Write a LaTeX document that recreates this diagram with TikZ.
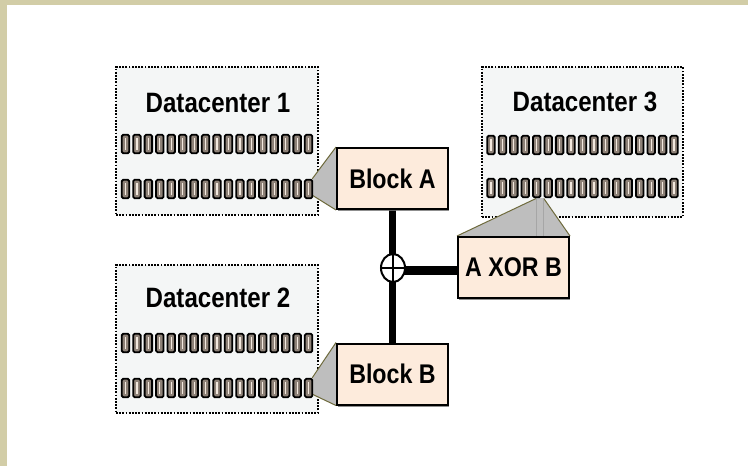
\documentclass[tikz,border=0pt]{standalone}
\usepackage{fontspec}
\newfontfamily\labelfont[FakeStretch=0.86]{Liberation Sans}
\usetikzlibrary{shapes.geometric,shadows}

\definecolor{frame}{HTML}{D2CDA7}
\definecolor{dcfill}{HTML}{F4F6F6}
\definecolor{blockfill}{HTML}{FDEBDC}
\definecolor{diskfill}{HTML}{8E8278}
\definecolor{diskstripe}{HTML}{F2E8DE}
\definecolor{calloutfill}{HTML}{BEBEBE}
\definecolor{calloutline}{HTML}{6E6A3C}

\pgfdeclarelayer{bg}
\pgfdeclarelayer{mid}
\pgfsetlayers{bg,mid,main}

\tikzset{
  dcbox/.style={draw=black, line width=2pt, dash pattern=on 1.8pt off 1.4pt,
    fill=dcfill, minimum width=202pt, minimum height=148pt, inner sep=0pt},
  dctitle/.style={font=\labelfont\bfseries\fontsize{28}{30}\selectfont, inner sep=0pt},
  disk/.style={draw=black, line width=1.8pt, fill=diskfill, rounded corners=1.5pt,
    minimum width=7.5pt, minimum height=18.5pt, inner sep=0pt,
    path picture={\draw[diskstripe, line width=1.2pt]
      ([yshift=-3pt]path picture bounding box.north) --
      ([yshift=3pt]path picture bounding box.south);}},
  blockbox/.style={draw=black, line width=2pt, fill=blockfill,
    minimum width=111pt, minimum height=61pt, inner sep=0pt,
    font=\labelfont\bfseries\fontsize{27}{29}\selectfont,
    drop shadow={shadow xshift=1.2pt, shadow yshift=-2pt, fill=black!55, opacity=0.8}},
  callout/.style={fill=calloutfill},
  calloutedge/.style={draw=calloutline, line width=1pt},
  xorsign/.style={ellipse, draw=black, line width=2pt, fill=white,
    minimum width=24pt, minimum height=28pt, inner sep=0pt,
    path picture={\draw[black, line width=1.6pt]
      (path picture bounding box.north) -- (path picture bounding box.south)
      (path picture bounding box.west) -- (path picture bounding box.east);}},
  bar/.style={draw=black, line width=#1},
}

\begin{document}
\begin{tikzpicture}[x=1pt, y=-1pt]
  \useasboundingbox (0,0) rectangle (748,466);

  \begin{pgfonlayer}{bg}
    % page and frame
    \fill[white] (0,0) rectangle (748,466);
    \fill[frame] (0,0) rectangle (748,5);
    \fill[frame] (0,0) rectangle (7,466);
    % datacenter enclosures
    \node[dcbox] (dc1) at (217,141) {};
    \node[dcbox] (dc2) at (217,339) {};
    \node[dcbox, minimum width=201pt, minimum height=150pt] (dc3) at (582.5,142) {};
  \end{pgfonlayer}

  \node[dctitle] (t1) at (218,103) {Datacenter 1};
  \node[dctitle] (t2) at (218,298) {Datacenter 2};
  \node[dctitle] (t3) at (585,102) {Datacenter 3};

  % disk rows
  \foreach \k in {0,...,16} {
    \node[disk] (dc1-r1-\k) at ({125.5+11.44*\k},144) {};
    \node[disk] (dc1-r2-\k) at ({125.5+11.44*\k},189) {};
    \node[disk] (dc2-r1-\k) at ({125.5+11.44*\k},343) {};
    \node[disk] (dc2-r2-\k) at ({125.5+11.44*\k},388) {};
    \node[disk] (dc3-r1-\k) at ({491+11.44*\k},145) {};
    \node[disk] (dc3-r2-\k) at ({491+11.44*\k},188) {};
  }

  % blocks
  \node[blockbox] (blka) at (392.5,178.5) {Block A};
  \node[blockbox] (blkb) at (392.5,374) {Block B};
  \node[blockbox] (xorb) at (513.5,267.5) {A XOR B};

  % xor operator
  \node[xorsign] (xr) at (393,268) {};

  \begin{pgfonlayer}{mid}
    % callouts from disks to blocks
    \fill[callout] ([xshift=-1pt]dc1-r2-16.north east) -- (blka.north west)
      -- (blka.south west) -- ([xshift=-1pt,yshift=4pt]dc1-r2-16.south east) -- cycle;
    \draw[calloutedge] ([xshift=-1pt]dc1-r2-16.north east) -- (blka.north west);
    \draw[calloutedge] ([xshift=-1pt,yshift=4pt]dc1-r2-16.south east) -- (blka.south west);

    \fill[callout] ([xshift=-1pt]dc2-r2-16.north east) -- (blkb.north west)
      -- (blkb.south west) -- ([xshift=-1pt,yshift=4pt]dc2-r2-16.south east) -- cycle;
    \draw[calloutedge] ([xshift=-1pt]dc2-r2-16.north east) -- (blkb.north west);
    \draw[calloutedge] ([xshift=-1pt,yshift=4pt]dc2-r2-16.south east) -- (blkb.south west);

    \fill[callout] (dc3-r2-4.south) -- (dc3-r2-5.south west)
      -- (xorb.north east) -- (xorb.north west) -- cycle;
    \draw[calloutedge] (dc3-r2-4.south) -- (xorb.north west);
    \draw[calloutedge] (dc3-r2-5.south west) -- (xorb.north east);
    \draw[black!35, line width=0.6pt] (dc3-r2-4.south) -- (dc3-r2-4.south |- xorb.north);
    \draw[black!35, line width=0.6pt] (dc3-r2-5.south west) -- (dc3-r2-5.south west |- xorb.north);

    % parity connections
    \draw[bar=7pt] (blka.south) -- (blkb.north);
    \draw[bar=9pt] ([yshift=-2pt]xr.center) -- ([yshift=-2pt]xr.center -| xorb.west);
  \end{pgfonlayer}
\end{tikzpicture}
\end{document}
